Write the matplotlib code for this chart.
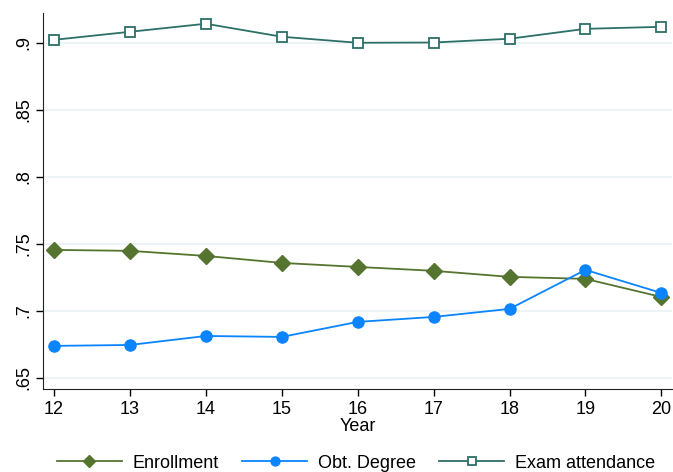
#!/usr/bin/env python3

import matplotlib

matplotlib.use("Agg")
import matplotlib.pyplot as plt
from matplotlib.ticker import FuncFormatter


YEARS = [12, 13, 14, 15, 16, 17, 18, 19, 20]
ENROLLMENT = [0.7455, 0.7448, 0.7410, 0.7358, 0.7328, 0.7299, 0.7254, 0.7239, 0.7104]
OBT_DEGREE = [0.6739, 0.6746, 0.6813, 0.6806, 0.6918, 0.6955, 0.7015, 0.7306, 0.7134]
EXAM_ATTENDANCE = [0.9022, 0.9082, 0.9142, 0.9045, 0.9000, 0.9002, 0.9030, 0.9104, 0.9119]
Y_TICKS = [0.65, 0.7, 0.75, 0.8, 0.85, 0.9]

GREEN = "#55742f"
BLUE = "#0a84ff"
TEAL = "#2d7068"
FONT_SIZE = 13

plt.rcParams["font.family"] = ["Liberation Sans", "DejaVu Sans"]


def stata_fmt(value, _pos):
    text = "{:.2f}".format(value).rstrip("0").rstrip(".")
    if text.startswith("0"):
        text = text[1:]
    return text


def main():
    fig = plt.figure(figsize=(6.73, 4.72), dpi=100)
    ax = fig.add_axes([0.064, 0.176, 0.935, 0.797])

    ax.plot(YEARS, ENROLLMENT, color=GREEN, linewidth=1.3, marker="D",
            markersize=8, label="Enrollment")
    ax.plot(YEARS, OBT_DEGREE, color=BLUE, linewidth=1.3, marker="o",
            markersize=8, label="Obt. Degree")
    ax.plot(YEARS, EXAM_ATTENDANCE, color=TEAL, linewidth=1.3, marker="s",
            markersize=7, markerfacecolor="white", markeredgewidth=1.3,
            label="Exam attendance")

    ax.set_xlim(11.855, 20.145)
    ax.set_ylim(0.6418, 0.9224)
    ax.set_xticks(YEARS)
    ax.set_yticks(Y_TICKS)
    ax.yaxis.set_major_formatter(FuncFormatter(stata_fmt))
    for label in ax.get_yticklabels():
        label.set_rotation(90)
        label.set_va("center")
    ax.tick_params(axis="both", labelsize=FONT_SIZE, length=5, width=1, direction="out")
    ax.tick_params(axis="y", pad=3)

    ax.grid(True, axis="y", color="#eaf2f3", linewidth=1.2)
    ax.set_axisbelow(True)
    for side in ("top", "right"):
        ax.spines[side].set_visible(False)
    for side in ("left", "bottom"):
        ax.spines[side].set_color("#222222")

    ax.set_xlabel("Year", fontsize=FONT_SIZE, labelpad=0)

    fig.legend(loc="lower center", bbox_to_anchor=(0.529, -0.034), ncol=3,
               frameon=False, fontsize=FONT_SIZE, handlelength=3.6,
               handletextpad=0.6, columnspacing=1.3, markerscale=0.8)

    fig.savefig("out.png", dpi=100)
    plt.close(fig)


if __name__ == "__main__":
    main()
